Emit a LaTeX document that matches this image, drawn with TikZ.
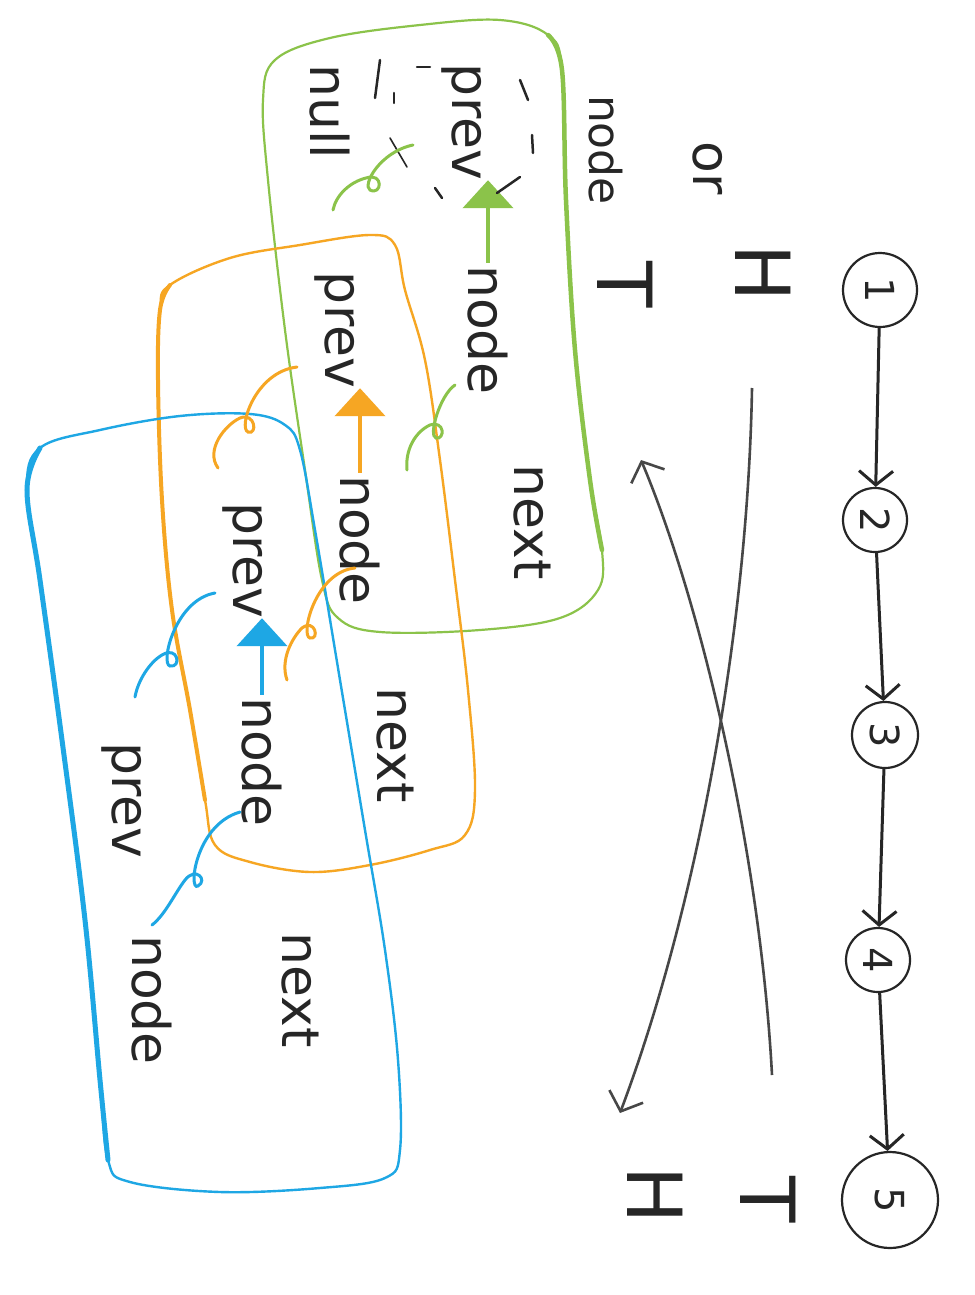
\documentclass[tikz,border=0pt]{standalone}
\usepackage{fontspec}
\setmainfont{DejaVu Sans}
\usetikzlibrary{arrows.meta}
\definecolor{gr}{RGB}{139,195,74}
\definecolor{og}{RGB}{246,166,35}
\definecolor{bl}{RGB}{30,167,228}
\definecolor{ink}{RGB}{38,38,38}
\begin{document}
\begin{tikzpicture}[x=1pt,y=-1pt,
  lbl/.style={rotate=-90, font=\fontsize{52}{56}\selectfont, text=ink, inner sep=0pt},
  bigl/.style={lbl, font=\fontsize{76}{80}\selectfont},
  circ/.style={draw=ink, line width=2.2pt, circle, inner sep=0pt, rotate=-90, font=\fontsize{40}{44}\selectfont, text=ink},
  conn/.style={draw=ink, line width=3pt, -{Straight Barb[length=14pt,width=34pt]}},
  longconn/.style={draw=ink!85, line width=2.6pt, -{Straight Barb[length=16pt,width=36pt]}},
  gbox/.style={draw=gr, line width=2.2pt},
  obox/.style={draw=og, line width=2.4pt},
  bbox/.style={draw=bl, line width=2.4pt},
  curl/.style={line width=3pt, line cap=round},
  ptr/.style={line width=4.5pt, shorten <=2pt, -{Triangle[length=28pt,width=50pt]}},
  tick/.style={draw=ink, line width=2.5pt, line cap=round}
]
\fill[white] (0,0) rectangle (974,1295);
\useasboundingbox (0,0) rectangle (974,1295);

% ---- boxes ----
\draw[gbox] plot[smooth cycle, tension=0.6] coordinates {(275,60) (330,38) (420,25) (500,20) (548,35) (562,70) (566,200) (575,350) (590,480) (602,550) (598,590) (560,618) (480,630) (380,632) (338,618) (322,580) (305,470) (285,330) (268,180) (263,100)};
\draw[draw=gr, line width=4.5pt, line cap=round] plot[smooth, tension=0.6] coordinates {(548,35) (562,70) (566,200) (575,350) (590,480) (602,550)};
\draw[obox] plot[smooth cycle, tension=0.6] coordinates {(170,285) (230,258) (300,245) (370,235) (395,245) (405,290) (425,360) (440,460) (455,580) (468,690) (475,790) (465,835) (430,850) (370,865) (310,872) (250,862) (215,845) (205,800) (190,710) (172,610) (162,500) (158,380) (160,310)};
\draw[draw=og, line width=4pt, line cap=round] plot[smooth, tension=0.6] coordinates {(170,285) (160,310) (158,380) (162,500) (172,610) (190,710) (205,800)};
\draw[bbox] plot[smooth cycle, tension=0.6] coordinates {(40,448) (100,430) (180,416) (250,414) (285,425) (300,450) (315,530) (340,680) (365,830) (385,950) (398,1060) (400,1150) (385,1178) (320,1188) (220,1192) (130,1182) (108,1160) (100,1080) (85,920) (62,740) (40,580) (27,490)};
\draw[draw=bl, line width=5pt, line cap=round] plot[smooth, tension=0.6] coordinates {(40,448) (27,490) (40,580) (62,740) (85,920) (100,1080) (108,1160)};

% ---- list of circles ----
\node[circ, minimum size=74pt] (c1) at (880,290) {1};
\node[circ, minimum size=64pt] (c2) at (875,520) {2};
\node[circ, minimum size=66pt] (c3) at (885,735) {3};
\node[circ, minimum size=64pt] (c4) at (878,960) {4};
\node[circ, minimum size=96pt] (c5) at (890,1200) {5};
\draw[conn] (c1) -- (c2);
\draw[conn] (c2) -- (c3);
\draw[conn] (c3) -- (c4);
\draw[conn] (c4) -- (c5);

% ---- head / tail ----
\node[bigl] (hTop) at (763,273) {H};
\node[bigl] (tTop) at (625,285) {T};
\node[bigl] (hBot) at (655,1195) {H};
\node[bigl] (tBot) at (768,1200) {T};
\coordinate (l1a) at (752,388);
\coordinate (l1b) at (620,1113);
\coordinate (l2a) at (772,1075);
\coordinate (l2b) at (641,460);
\draw[longconn] (l1a) .. controls (748,620) and (700,900) .. (l1b);
\draw[longconn] (l2a) .. controls (760,850) and (700,600) .. (l2b);

% ---- top notes ----
\node[lbl, font=\fontsize{44}{48}\selectfont] (nTop) at (606,150) {node};
\node[lbl, font=\fontsize{52}{56}\selectfont] (orTop) at (708,168) {or};

% ---- green node ----
\node[lbl] (gnull) at (330,112) {null};
\node[lbl] (gprev) at (462,122) {prev};
\node[lbl] (gnode) at (488,330) {node};
\node[lbl] (gnext) at (532,522) {next};
\draw[ptr, gr] (gnode.west) -- (gnode.west |- gprev.east);
\draw[tick] (380,60) -- (375,98);
\draw[tick] (394,93) -- (394,103);
\draw[tick] (417,67) -- (430,67);
\draw[tick] (520,80) -- (528,100);
\draw[tick] (532,135) -- (533,153);
\draw[tick] (497,193) -- (520,177);
\draw[tick] (435,188) -- (442,198);
\draw[tick, line width=1.6pt] (390,138) -- (407,167);
\coordinate (g1a) at (333,210); \coordinate (g1b) at (413,145);
\draw[curl, gr] (g1a) .. controls (336,195) and (350,182) .. (366,178) .. controls (384,172) and (382,196) .. (370,190) .. controls (362,185) and (380,152) .. (g1b);
\coordinate (g2a) at (407,470); \coordinate (g2b) at (455,385);
\draw[curl, gr] (g2a) .. controls (405,450) and (415,432) .. (430,425) .. controls (445,420) and (445,440) .. (436,438) .. controls (428,436) and (440,395) .. (g2b);

% ---- orange node ----
\node[lbl] (oprev) at (335,330) {prev};
\node[lbl] (onode) at (360,540) {node};
\node[lbl] (onext) at (395,745) {next};
\draw[ptr, og] (onode.west) -- (onode.west |- oprev.east);
\coordinate (o1a) at (218,468); \coordinate (o1b) at (297,367);
\draw[curl, og] (o1a) .. controls (205,450) and (225,425) .. (240,418) .. controls (255,412) and (258,435) .. (248,432) .. controls (238,428) and (255,372) .. (o1b);
\coordinate (o2a) at (287,680); \coordinate (o2b) at (355,568);
\draw[curl, og] (o2a) .. controls (280,660) and (292,638) .. (302,628) .. controls (315,618) and (320,640) .. (310,638) .. controls (300,636) and (315,572) .. (o2b);

% ---- blue node ----
\node[lbl] (bprev) at (243,560) {prev};
\node[lbl] (bnode) at (262,762) {node};
\node[lbl] (bnext) at (300,990) {next};
\node[lbl] (bprev2) at (122,800) {prev};
\node[lbl] (bnode2) at (152,1000) {node};
\draw[ptr, bl] (bnode.west) -- (bnode.west |- bprev.east);
\coordinate (b1a) at (135,697); \coordinate (b1b) at (215,593);
\draw[curl, bl] (b1a) .. controls (138,680) and (150,662) .. (162,655) .. controls (178,645) and (182,668) .. (170,666) .. controls (160,664) and (175,600) .. (b1b);
\coordinate (b2a) at (152,925); \coordinate (b2b) at (240,812);
\draw[curl, bl] (b2a) .. controls (165,915) and (175,893) .. (185,880) .. controls (196,866) and (208,880) .. (198,886) .. controls (188,892) and (195,825) .. (b2b);
\end{tikzpicture}
\end{document}
